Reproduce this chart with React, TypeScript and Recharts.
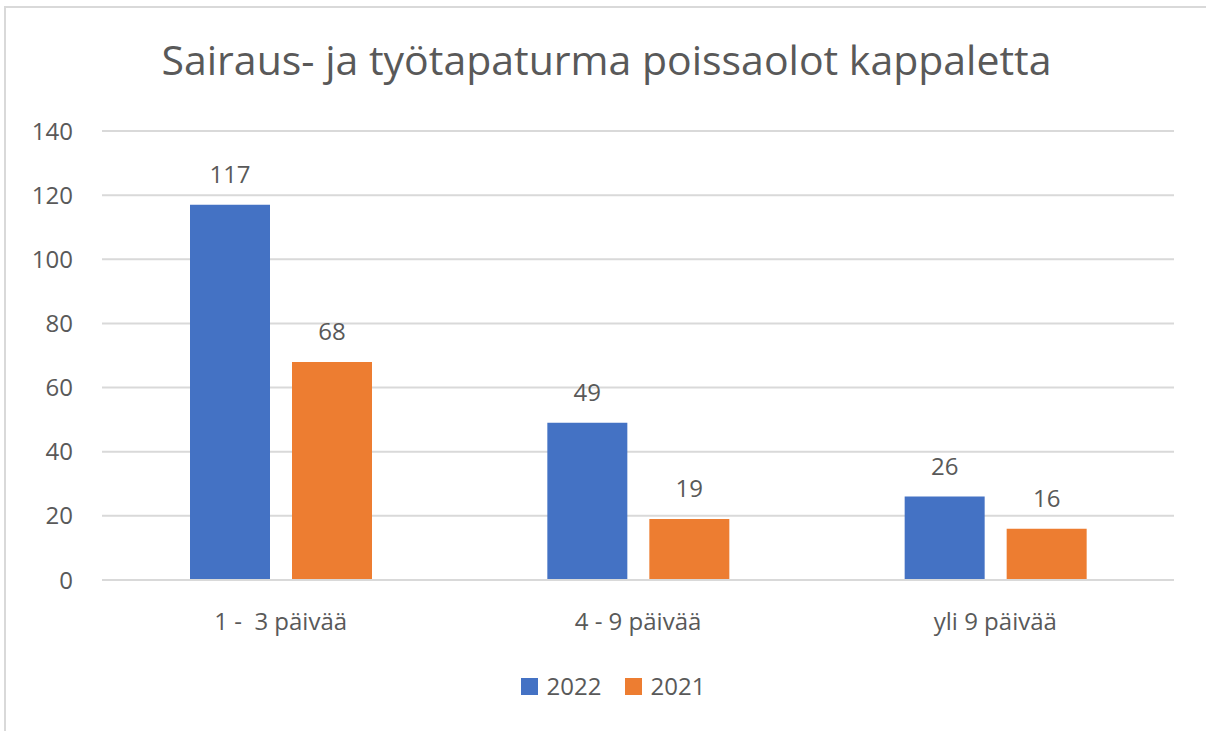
import React from "react";
import {
  BarChart,
  Bar,
  XAxis,
  YAxis,
  CartesianGrid,
  Legend,
  LabelList,
} from "recharts";

const categories = ["1 -\u00a0 3 päivää", "4 - 9 päivää", "yli 9 päivää"];
const values2022 = [117, 49, 26];
const values2021 = [68, 19, 16];
const seriesOrder = ["2022", "2021"];
const yTicks = [0, 20, 40, 60, 80, 100, 120, 140];

const data = categories.map((name, i) => ({
  name,
  y2022: values2022[i],
  y2021: values2021[i],
}));

const FONT = "'Open Sans', sans-serif";
const TEXT = "#595959";
const GRID = "#d9d9d9";

function LegendContent({ payload }: any) {
  const items = [...(payload || [])].sort(
    (a: any, b: any) => seriesOrder.indexOf(a.value) - seriesOrder.indexOf(b.value)
  );
  return (
    <div style={{ display: "flex", justifyContent: "center", gap: 23, fontFamily: FONT }}>
      {items.map((p: any) => (
        <div key={p.value} style={{ display: "flex", alignItems: "center", gap: 9 }}>
          <span style={{ width: 17, height: 17, background: p.color, display: "inline-block" }} />
          <span style={{ fontSize: 24, color: TEXT, lineHeight: "32px" }}>{p.value}</span>
        </div>
      ))}
    </div>
  );
}

export default function App() {
  return (
    <div
      style={{
        position: "absolute",
        left: 0,
        top: 0,
        width: 1206,
        height: 731,
        background: "#fff",
        overflow: "hidden",
        fontFamily: FONT,
      }}
    >
      <div
        style={{
          position: "absolute",
          left: 4,
          top: 6,
          width: 1230,
          height: 760,
          border: `2px solid ${GRID}`,
        }}
      />
      <div
        style={{
          position: "absolute",
          left: 0,
          top: 39,
          width: 1213,
          textAlign: "center",
          fontSize: 41,
          lineHeight: "41px",
          color: TEXT,
          whiteSpace: "nowrap",
        }}
      >
        Sairaus- ja työtapaturma poissaolot kappaletta
      </div>
      <div style={{ position: "absolute", left: 0, top: 0 }}>
        <BarChart
          width={1206}
          height={731}
          data={data}
          margin={{ top: 131, right: 32, bottom: 91, left: 0 }}
          barSize={80}
          barGap={22}
        >
          <CartesianGrid vertical={false} stroke={GRID} strokeWidth={2} />
          <XAxis
            dataKey="name"
            height={60}
            tickLine={false}
            tickSize={0}
            tickMargin={33}
            axisLine={{ stroke: GRID, strokeWidth: 2 }}
            tick={{ fontSize: 24, fill: TEXT, fontFamily: FONT }}
          />
          <YAxis
            width={102}
            domain={[0, 140]}
            ticks={yTicks}
            tickLine={false}
            axisLine={false}
            tickSize={0}
            tickMargin={29}
            tick={{ fontSize: 24, fill: TEXT, fontFamily: FONT }}
          />
          <Legend
            verticalAlign="bottom"
            content={<LegendContent />}
            wrapperStyle={{ top: 670, bottom: "auto", height: 0, left: 0, width: 1226 }}
          />
          <Bar dataKey="y2022" name="2022" fill="#4472c4" isAnimationActive={false}>
            <LabelList
              dataKey="y2022"
              position="top"
              offset={22}
              style={{ fontSize: 24, fill: TEXT, fontFamily: FONT }}
            />
          </Bar>
          <Bar dataKey="y2021" name="2021" fill="#ed7d31" isAnimationActive={false}>
            <LabelList
              dataKey="y2021"
              position="top"
              offset={22}
              style={{ fontSize: 24, fill: TEXT, fontFamily: FONT }}
            />
          </Bar>
        </BarChart>
      </div>
    </div>
  );
}
